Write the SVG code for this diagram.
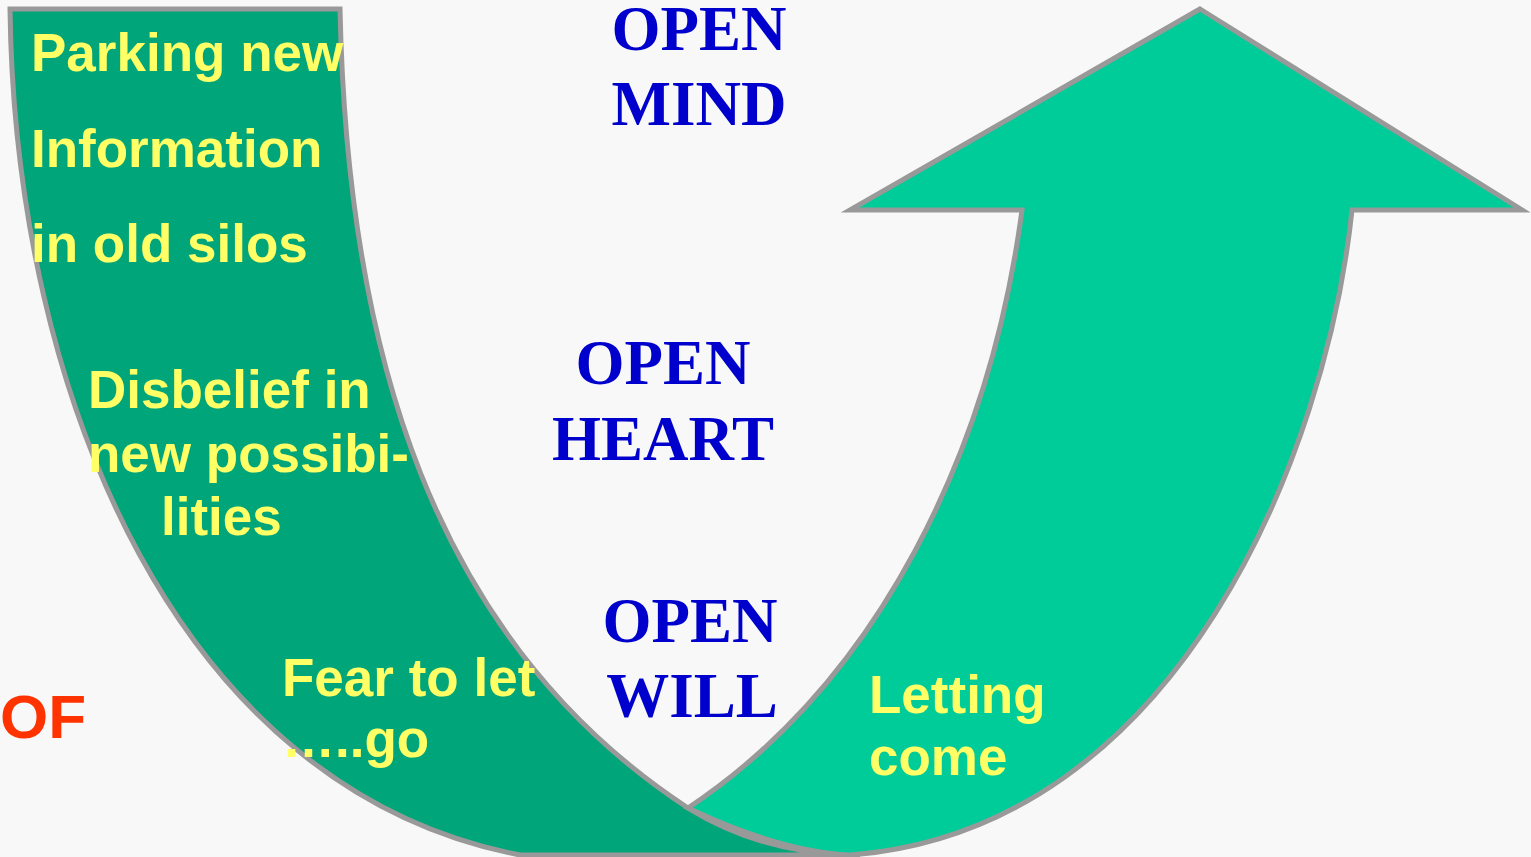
<svg xmlns="http://www.w3.org/2000/svg" width="1531" height="857" viewBox="0 0 1531 857">
<style>
.shape{stroke:#999999;stroke-width:5;stroke-linejoin:miter}
.dark{fill:#00A57A}
.light{fill:#00CC99}
.y{font-family:"Liberation Sans",Arial,sans-serif;font-weight:bold;font-size:53px;fill:#FFFF66}
.b{font-family:"Liberation Serif","Times New Roman",serif;font-weight:bold;font-size:63px;fill:#0000CC;text-anchor:middle}
.r{font-family:"Liberation Sans",Arial,sans-serif;font-weight:bold;font-size:62px;fill:#FF3300}
</style>
<rect width="1531" height="857" fill="#F8F8F8"/>
<g id="letting-go-arrow">
<path class="shape dark" d="M10,9 L340,9 C347,350 432,640 688,808 C740,840 800,855 860,855 L520,855 C180,790 15,400 10,9 Z"/>
</g>
<g id="letting-come-arrow">
<path class="shape light" d="M1200,9 L1522,210 L1352,210 C1327,450 1180,830 850,855 C790,852 730,828 688,808 C880,680 990,450 1022,210 L850,210 Z"/>
</g>
<g id="labels-left">
<text class="y" x="31" y="71">Parking new</text>
<text class="y" x="31" y="167">Information</text>
<text class="y" x="31" y="262">in old silos</text>
<text class="y" x="88" y="408">Disbelief in</text>
<text class="y" x="88" y="472">new possibi-</text>
<text class="y" x="161" y="535">lities</text>
<text class="y" x="282" y="696">Fear to let</text>
<text class="y" x="282" y="757">…..go</text>
</g>
<g id="labels-right">
<text class="y" x="869" y="713">Letting</text>
<text class="y" x="869" y="775">come</text>
</g>
<g id="open-labels">
<text class="b" x="699" y="50">OPEN</text>
<text class="b" x="699" y="125">MIND</text>
<text class="b" x="663" y="384">OPEN</text>
<text class="b" x="663" y="460">HEART</text>
<text class="b" x="690" y="642">OPEN</text>
<text class="b" x="692" y="717">WILL</text>
</g>
<g id="of-label">
<text class="r" x="0" y="738">OF</text>
</g>
</svg>
